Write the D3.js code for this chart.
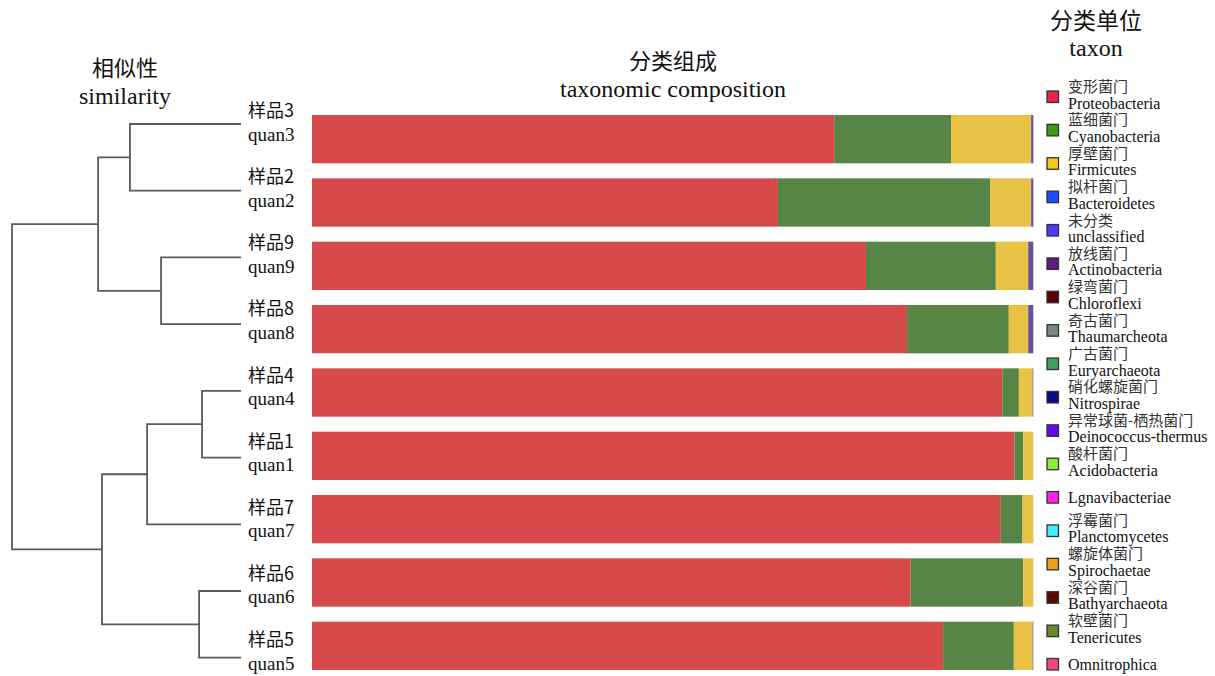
<!DOCTYPE html>
<html>
<head>
<meta charset="utf-8">
<script src="https://cdn.jsdelivr.net/npm/d3@7"></script>
<style>
  html, body { margin: 0; padding: 0; background: #fff; }
  svg { display: block; }
  .serif { font-family: "Liberation Serif", "Times New Roman", serif; }
  .cjk { font-family: "Noto Sans CJK SC", "Noto Sans CJK JP", sans-serif; }
</style>
</head>
<body>
<svg id="chart" width="1215" height="676"></svg>
<script>
// Samples in dendrogram (display) order
const sampleIds   = ["quan3", "quan2", "quan9", "quan8", "quan4", "quan1", "quan7", "quan6", "quan5"];
const sampleNames = ["样品3", "样品2", "样品9", "样品8", "样品4", "样品1", "样品7", "样品6", "样品5"];

// Relative abundance (%) per sample, same order as sampleIds
const proteobacteria = [72.4, 64.6, 76.8, 82.5, 95.7, 97.4, 95.5, 83.0, 87.5];
const cyanobacteria  = [16.2, 29.4, 18.0, 14.1,  2.3,  1.2,  3.0, 15.6,  9.8];
const firmicutes     = [11.1,  5.7,  4.5,  2.7,  1.9,  1.4,  1.5,  1.4,  2.6];
const unclassified   = [ 0.3,  0.3,  0.7,  0.7,  0.1,  0.0,  0.0,  0.0,  0.1];

// Stacked series and the fill used for each in the bars
const barSeries = ["Proteobacteria", "Cyanobacteria", "Firmicutes", "unclassified"];
const barColors = ["#d64a4c", "#568546", "#e8c245", "#6a4f9c"];

// Hierarchical clustering: each merge joins two nodes (0-8 leaves, 9+ clusters) at a height
const merges = [
  [0, 1, 0.485],   // 9
  [2, 3, 0.349],   // 10
  [4, 5, 0.170],   // 11
  [7, 8, 0.183],   // 12
  [11, 6, 0.410],  // 13
  [9, 10, 0.624],  // 14
  [13, 12, 0.607], // 15
  [14, 15, 1.000]  // 16 (root)
];

// Legend entries
const taxaCn = ["变形菌门", "蓝细菌门", "厚壁菌门", "拟杆菌门", "未分类", "放线菌门", "绿弯菌门", "奇古菌门",
  "广古菌门", "硝化螺旋菌门", "异常球菌-栖热菌门", "酸杆菌门", "", "浮霉菌门", "螺旋体菌门", "深谷菌门", "软壁菌门", ""];
const taxaEn = ["Proteobacteria", "Cyanobacteria", "Firmicutes", "Bacteroidetes", "unclassified", "Actinobacteria",
  "Chloroflexi", "Thaumarcheota", "Euryarchaeota", "Nitrospirae", "Deinococcus-thermus", "Acidobacteria",
  "Lgnavibacteriae", "Planctomycetes", "Spirochaetae", "Bathyarchaeota", "Tenericutes", "Omnitrophica"];
const taxaColors = ["#ee2244", "#3a9c12", "#f2c81e", "#1c4cff", "#4a3cff", "#5e1a80", "#5a0006", "#7a8880",
  "#3aa05c", "#0a0a88", "#6a08ee", "#8cee38", "#ff22ee", "#44ecff", "#eba020", "#580a02", "#6c8a2c", "#f5467c"];

const svg = d3.select("#chart");

// ---- Titles ----
function title(x, y1, y2, cn, en, cnSize) {
  svg.append("text").attr("class", "cjk").attr("x", x).attr("y", y1)
    .attr("text-anchor", "middle").attr("font-size", cnSize).attr("fill", "#111").text(cn);
  svg.append("text").attr("class", "serif").attr("x", x).attr("y", y2)
    .attr("text-anchor", "middle").attr("font-size", 24).attr("fill", "#111").text(en);
}
title(125, 76, 104, "相似性", "similarity", 22);
title(673, 69, 97, "分类组成", "taxonomic composition", 22);
title(1096, 29, 56, "分类单位", "taxon", 23);

// ---- Stacked bars ----
const x = d3.scaleLinear().domain([0, 100]).range([312, 1033.3]);
const yBar = d3.scaleBand().domain(sampleIds).range([115, 670]).paddingInner(0.237).paddingOuter(0);

const table = sampleIds.map((id, i) => ({
  id,
  Proteobacteria: proteobacteria[i],
  Cyanobacteria: cyanobacteria[i],
  Firmicutes: firmicutes[i],
  unclassified: unclassified[i]
}));
const stacked = d3.stack().keys(barSeries)(table);

svg.append("g").selectAll("g").data(stacked).join("g")
  .attr("fill", (d, i) => barColors[i])
  .selectAll("rect").data(d => d).join("rect")
  .attr("x", d => x(d[0]))
  .attr("y", d => yBar(d.data.id))
  .attr("width", d => Math.max(0, x(d[1]) - x(d[0])))
  .attr("height", yBar.bandwidth());

// ---- Dendrogram ----
const yLeaf = d3.scaleLinear().domain([0, sampleIds.length - 1]).range([124, 657.7]);
const xHeight = d3.scaleLinear().domain([0, 1]).range([241, 12]);

const nodes = sampleIds.map((id, i) => ({ y: yLeaf(i), h: 0 }));
merges.forEach(([a, b, h]) => nodes.push({ y: (nodes[a].y + nodes[b].y) / 2, h, a, b }));

const links = [];
nodes.forEach(n => {
  if (n.a === undefined) return;
  const A = nodes[n.a], B = nodes[n.b];
  const xn = xHeight(n.h);
  links.push(`M${xHeight(A.h)},${A.y}H${xn}V${B.y}H${xHeight(B.h)}`);
});
svg.append("g").selectAll("path").data(links).join("path")
  .attr("d", d => d).attr("fill", "none")
  .attr("stroke", "#5a5a5a").attr("stroke-width", 1.8);

// Leaf labels (two lines per sample)
const yLabel = d3.scaleLinear().domain([0, sampleIds.length - 1]).range([117, 646]);
const lab = svg.append("g").selectAll("g").data(sampleIds).join("g");
lab.append("text").attr("class", "cjk").attr("x", 248).attr("y", (d, i) => yLabel(i))
  .attr("font-size", 18).attr("fill", "#111").text((d, i) => sampleNames[i]);
lab.append("text").attr("class", "serif").attr("x", 248).attr("y", (d, i) => yLabel(i) + 23.5)
  .attr("font-size", 19).attr("fill", "#111").text(d => d);

// ---- Legend ----
const yLeg = d3.scaleLinear().domain([0, taxaEn.length - 1]).range([96.5, 664]);
const leg = svg.append("g").selectAll("g").data(taxaEn).join("g")
  .attr("transform", (d, i) => `translate(0,${yLeg(i)})`);
leg.append("rect").attr("x", 1047).attr("y", -5.5).attr("width", 11.5).attr("height", 11.5)
  .attr("fill", (d, i) => taxaColors[i]).attr("stroke", "#333").attr("stroke-width", 1.3);
leg.append("text").attr("class", "cjk").attr("x", 1068).attr("y", -4.5)
  .attr("font-size", 15).attr("fill", "#333").text((d, i) => taxaCn[i]);
leg.append("text").attr("class", "serif").attr("x", 1068)
  .attr("y", (d, i) => taxaCn[i] ? 12 : 5.5)
  .attr("font-size", 16).attr("fill", "#111").text(d => d);
</script>
</body>
</html>
